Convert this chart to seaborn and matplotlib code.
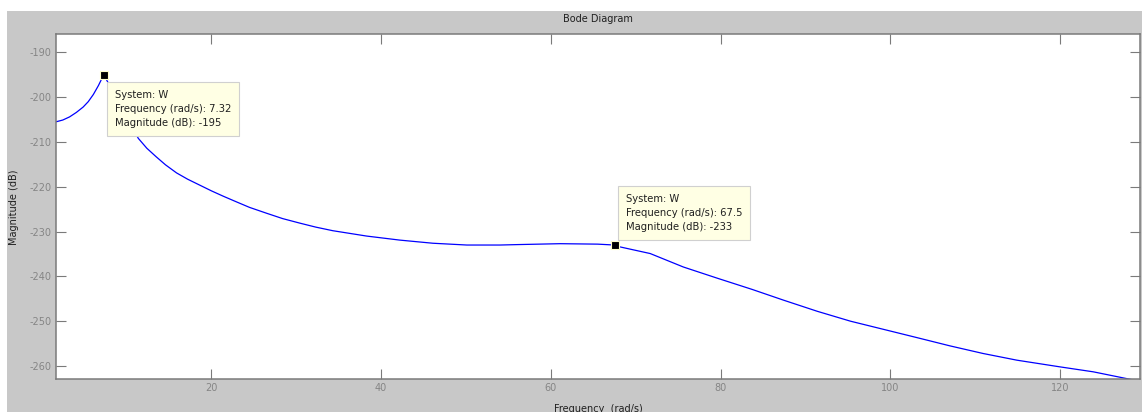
import matplotlib
matplotlib.use("Agg")
import matplotlib.pyplot as plt
from matplotlib.patches import Rectangle
import seaborn as sns

# ---- data ----
freq = [1.7, 2.5, 3.3, 4.1, 4.9, 5.5, 6.1, 6.7, 7.32, 8.5, 10.0, 11.4, 12.4,
        13.5, 14.6, 15.9, 17.2, 18.6, 20.0, 21.4, 23.0, 24.5, 26.5, 28.4,
        30.4, 32.3, 34.3, 38.3, 42.2, 46.1, 50.1, 54.0, 56.1, 61.1, 65.5,
        67.5, 68.1, 71.7, 75.6, 79.6, 83.7, 87.4, 91.4, 95.3, 100.0, 103.2,
        107.0, 110.9, 114.9, 120.0, 123.9, 127.8, 129.4]
mag = [-205.5, -205.1, -204.4, -203.4, -202.2, -201.0, -199.4, -197.4, -195.0,
       -199.0, -204.5, -209.2, -211.4, -213.3, -215.1, -216.9, -218.3, -219.6,
       -220.9, -222.1, -223.4, -224.6, -225.9, -227.1, -228.1, -229.0, -229.8,
       -231.0, -231.9, -232.6, -233.0, -233.0, -232.9, -232.7, -232.8, -233.0,
       -233.4, -234.9, -237.9, -240.4, -242.9, -245.3, -247.8, -250.0, -252.2,
       -253.7, -255.5, -257.2, -258.7, -260.2, -261.3, -262.8, -263.4]
tip_freq = [7.32, 67.5]
tip_mag = [-195, -233]
tip_system = ["W", "W"]
x_ticks = [20, 40, 60, 80, 100, 120]
y_ticks = [-190, -200, -210, -220, -230, -240, -250, -260]

title = "Bode Diagram"
xlabel = "Frequency  (rad/s)"
ylabel = "Magnitude (dB)"

plt.rcParams["axes.unicode_minus"] = False
plt.rcParams["font.family"] = ["DejaVu Sans"]

# ---- figure ----
W, H = 1142, 412
fig = plt.figure(figsize=(W / 100, H / 100), dpi=100)
fig.patch.set_facecolor("white")
fig.add_artist(Rectangle((7 / W, 0), 1 - 7 / W, (H - 11) / H,
                         transform=fig.transFigure, facecolor="#c8c8c8",
                         edgecolor="none", zorder=-10))

ax_l, ax_r, ax_t, ax_b = 56, 1140, 34, 379
ax = fig.add_axes([ax_l / W, 1 - ax_b / H, (ax_r - ax_l) / W, (ax_b - ax_t) / H])
ax.set_facecolor("white")

FS = 7.0
TIP_FS = 7.2
GRAY = "#7a7a7a"

sns.lineplot(x=freq, y=mag, ax=ax, color="#0000ff", linewidth=0.9, sort=False)

ax.plot(tip_freq, tip_mag, linestyle="none", marker="s", markersize=5.5,
        markerfacecolor="black", markeredgecolor="#ffffc8", markeredgewidth=0.8,
        zorder=6)

offsets = [(11, -15, "top"), (11, 13, "bottom")]
for f, m, s, (dx, dy, va) in zip(tip_freq, tip_mag, tip_system, offsets):
    txt = f"System: {s}\nFrequency (rad/s): {f:g}\nMagnitude (dB): {m:g}"
    ax.annotate(txt, xy=(f, m), xytext=(dx, dy), textcoords="offset pixels",
                ha="left", va=va, fontsize=TIP_FS, color="#202020",
                linespacing=1.5,
                bbox=dict(boxstyle="square,pad=0.8", facecolor="#ffffe4",
                          edgecolor="#d0d0d0", linewidth=0.8),
                zorder=7, annotation_clip=False)

ax.set_xlim(1.7, 129.4)
ax.set_ylim(-262.9, -185.9)
ax.set_xticks(x_ticks)
ax.set_yticks(y_ticks)
ax.tick_params(direction="in", top=True, right=True, length=7, width=0.8,
               color=GRAY, labelcolor="#858585", labelsize=FS, pad=3)
for sp in ax.spines.values():
    sp.set_color(GRAY)
    sp.set_linewidth(1.1)
ax.set_xlabel("")
ax.set_ylabel("")

cx = (ax_l + ax_r) / 2 / W
fig.text(cx, 1 - 19 / H, title, ha="center", va="center", fontsize=FS,
         color="#202020")
fig.text(cx, 1 - 409 / H, xlabel, ha="center", va="center", fontsize=FS,
         color="#202020")
fig.text(14 / W, 1 - 207 / H, ylabel, ha="center", va="center", fontsize=FS,
         color="#202020", rotation=90)

fig.savefig("out.png", dpi=100, facecolor=fig.get_facecolor())
